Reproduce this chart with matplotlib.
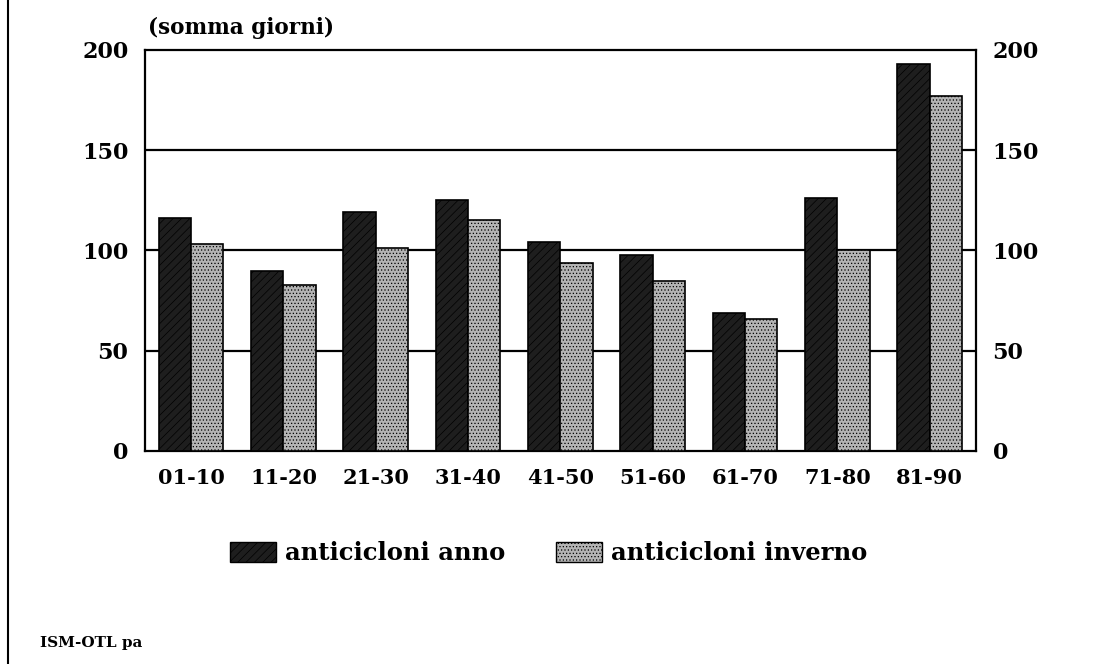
import matplotlib
matplotlib.use("Agg")
import matplotlib.pyplot as plt
import numpy as np
from matplotlib.lines import Line2D
from matplotlib.patches import Patch

plt.rcParams['font.family'] = ['DejaVu Serif']
plt.rcParams['font.weight'] = 'bold'
plt.rcParams['hatch.linewidth'] = 0.5

categories = ["01-10", "11-20", "21-30", "31-40", "41-50", "51-60", "61-70", "71-80", "81-90"]
anno = [116, 90, 119, 125, 104, 98, 69, 126, 193]
inverno = [103, 83, 101, 115, 94, 85, 66, 100, 177]
yticks = [0, 50, 100, 150, 200]
series_names = ["anticicloni anno", "anticicloni inverno"]

fig = plt.figure(figsize=(11.10, 6.64), dpi=100)
ax = fig.add_axes([0.1306, 0.3208, 0.7486, 0.6039])

x = np.arange(len(categories))
w = 0.35
c_anno = '#1e1e1e'
c_inv = '#b4b4b4'
h_anno = '////'
h_inv = '.....'
ax.bar(x - w/2, anno, w, color=c_anno, edgecolor='black', linewidth=1.2, zorder=3, hatch=h_anno)
ax.bar(x + w/2, inverno, w, color=c_inv, edgecolor='black', linewidth=1.2, zorder=3, hatch=h_inv)

ax.set_xlim(-0.5, len(categories) - 0.5)
ax.set_ylim(0, 200)
ax.set_yticks(yticks)
ax.set_xticks(x)
ax.set_xticklabels(categories)
for yv in yticks[1:-1]:
    ax.axhline(yv, color='black', linewidth=1.6, zorder=1)
for s in ax.spines.values():
    s.set_linewidth(1.6)
ax.tick_params(axis='x', length=0, labelsize=15, pad=12)
ax.tick_params(axis='y', length=0, labelsize=16, pad=12, labelright=True)

fig.text(0.1333, 0.958, "(somma giorni)", fontsize=15.5, fontweight='bold', ha='left', va='center')

handles = [Patch(facecolor=c_anno, edgecolor='black', hatch=h_anno),
           Patch(facecolor=c_inv, edgecolor='black', hatch=h_inv)]
fig.legend(handles, series_names, loc='center', bbox_to_anchor=(0.494, 0.167), ncol=2,
           frameon=False, fontsize=17.5, handlelength=1.9, handleheight=0.9,
           columnspacing=2.1, handletextpad=0.35)

fig.text(0.036, 0.032, "ISM-OTL pa", fontsize=11, fontweight='bold', ha='left', va='center')
fig.add_artist(Line2D([0.0075, 0.0075], [0, 1], color='black', linewidth=1.5, transform=fig.transFigure))

fig.savefig("out.png", dpi=100)
